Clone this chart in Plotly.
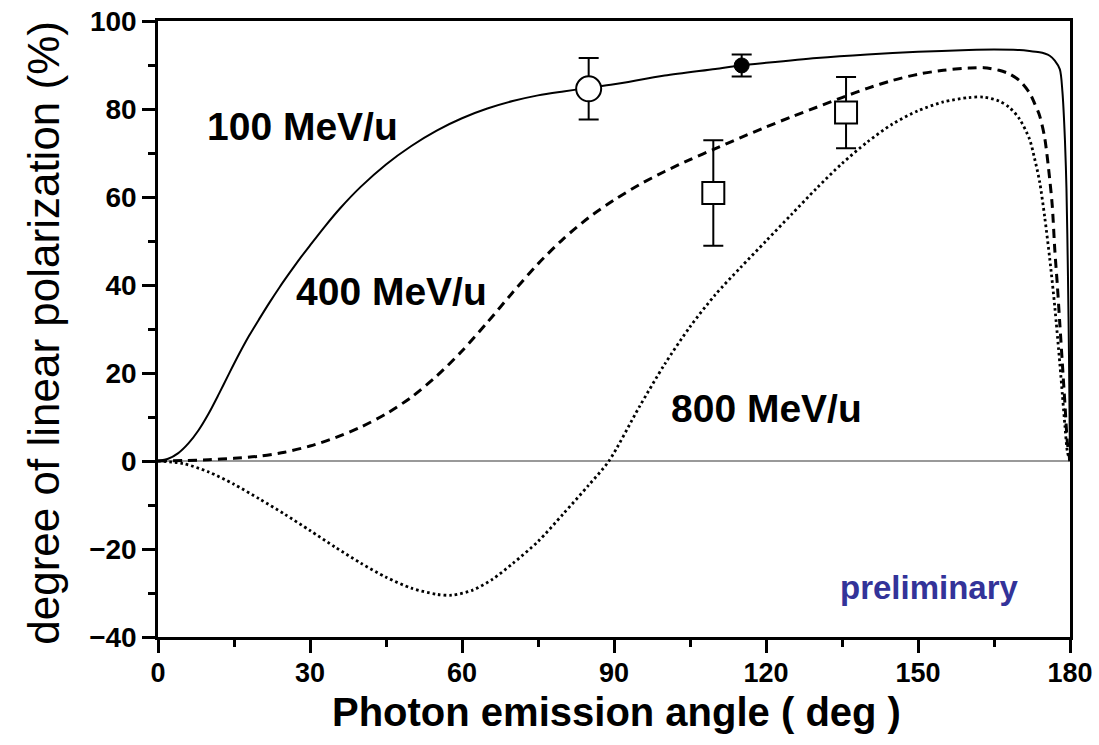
import plotly.graph_objects as go

# ---------------- data ----------------
angle_100 = [0, 2, 4, 6, 8, 10, 12, 14, 16, 18, 20, 22, 24, 26, 28, 30, 33, 36, 40, 45, 50, 55, 60,
             65, 70, 75, 80, 85, 90, 100, 110, 115, 120, 130, 140, 150, 160, 165, 170, 172, 174,
             175, 176, 177, 178, 178.5, 179, 179.3, 179.6, 179.8, 180]
pol_100 = [0, 0.5, 1.8, 4.0, 7.0, 10.8, 15.2, 19.8, 24.3, 28.5, 32.3, 36.0, 39.5, 42.8, 46.0, 49.0,
           53.4, 57.5, 62.3, 67.4, 71.6, 75.1, 77.9, 80.1, 81.8, 83.1, 84.0, 84.8, 85.6, 87.6, 89.1,
           89.9, 90.5, 91.6, 92.4, 93.0, 93.4, 93.5, 93.4, 93.2, 92.9, 92.6, 92.1, 91.0, 89.0, 84.0,
           73.0, 62.0, 42.0, 24.0, 0]

angle_400 = [0, 5, 10, 15, 20, 25, 30, 35, 40, 45, 50, 55, 60, 65, 70, 75, 80, 85, 90, 95, 100,
             105, 110, 115, 120, 125, 130, 135, 140, 145, 150, 155, 160, 163, 166, 168, 170, 172,
             173, 174, 175, 176, 176.5, 177, 177.5, 178, 178.5, 179, 179.5, 180]
pol_400 = [0, 0.1, 0.3, 0.6, 1.1, 2.0, 3.4, 5.3, 7.7, 10.7, 14.5, 19.3, 25.0, 31.5, 38.3, 44.8,
           50.5, 55.3, 59.3, 62.8, 65.8, 68.5, 71.0, 73.5, 75.9, 78.2, 80.4, 82.6, 84.7, 86.5,
           87.9, 88.8, 89.3, 89.4, 88.8, 88.0, 86.5, 83.7, 81.3, 78.5, 73.5, 64.0, 58.0, 48.0,
           40.0, 31.0, 22.0, 13.0, 4.0, 0]

angle_800 = [0, 5, 10, 15, 20, 25, 30, 35, 40, 45, 50, 55, 58, 62, 66, 70, 75, 80, 85, 89, 95,
             100, 105, 110, 115, 120, 125, 130, 135, 140, 145, 150, 155, 160, 163, 166, 168, 170,
             172, 173, 174, 175, 176, 177, 178, 178.5, 179, 179.5, 180]
pol_800 = [0, -0.6, -2.5, -5.3, -8.6, -12.1, -15.8, -19.6, -23.2, -26.4, -28.9, -30.3, -30.5,
           -29.4, -26.9, -23.3, -18.3, -12.0, -5.5, 0, 12.3, 22.0, 30.5, 37.8, 44.0, 50.0, 56.0,
           62.0, 67.6, 72.5, 76.6, 79.6, 81.6, 82.6, 82.7, 81.8, 80.4, 77.8, 73.2, 68.8, 63.5,
           55.5, 46.0, 35.0, 22.0, 15.0, 8.0, 2.0, 0]

open_circle_x = [85.0]
open_circle_y = [84.6]
open_circle_err = [7.0]

filled_circle_x = [115.2]
filled_circle_y = [89.9]
filled_circle_err = [2.5]

square_x = [109.6, 135.8]
square_y = [60.9, 79.2]
square_err = [12.0, 8.1]

curve_labels = ["100 MeV/u", "400 MeV/u", "800 MeV/u"]
label_x = [28.5, 46.1, 120.1]
label_y = [76.1, 38.6, 12.0]

x_ticks = [0, 30, 60, 90, 120, 150, 180]
y_ticks = [-40, -20, 0, 20, 40, 60, 80, 100]

FONT = "Liberation Sans, Arial, sans-serif"

fig = go.Figure()

fig.add_trace(go.Scatter(x=angle_100, y=pol_100, mode="lines", name=curve_labels[0],
                         line=dict(color="black", width=2, shape="spline", smoothing=0.8)))
fig.add_trace(go.Scatter(x=angle_400, y=pol_400, mode="lines", name=curve_labels[1],
                         line=dict(color="black", width=3, dash="9px,6px", shape="spline",
                                   smoothing=0.8)))
fig.add_trace(go.Scatter(x=angle_800, y=pol_800, mode="lines", name=curve_labels[2],
                         line=dict(color="black", width=2.8, dash="2.6px,3px", shape="spline",
                                   smoothing=0.8)))

err_style = dict(type="data", color="black", thickness=2, width=10)

fig.add_trace(go.Scatter(x=open_circle_x, y=open_circle_y, mode="markers",
                         error_y=dict(array=open_circle_err, **err_style),
                         marker=dict(symbol="circle", size=25, color="white",
                                     line=dict(color="black", width=2))))
fig.add_trace(go.Scatter(x=filled_circle_x, y=filled_circle_y, mode="markers",
                         error_y=dict(array=filled_circle_err, **err_style),
                         marker=dict(symbol="circle", size=15, color="black",
                                     line=dict(color="black", width=1))))
fig.add_trace(go.Scatter(x=square_x, y=square_y, mode="markers",
                         error_y=dict(array=square_err, **err_style),
                         marker=dict(symbol="square", size=22, color="white",
                                     line=dict(color="black", width=2))))

annotations = []
for t, xx, yy in zip(curve_labels, label_x, label_y):
    annotations.append(dict(x=xx, y=yy, xref="x", yref="y", text=t, showarrow=False,
                            xanchor="center", yanchor="middle",
                            font=dict(family=FONT, size=39, color="black", weight="bold")))
annotations.append(dict(x=152.3, y=-28.7, xref="x", yref="y", text="preliminary", showarrow=False,
                        xanchor="center", yanchor="middle",
                        font=dict(family=FONT, size=33, color="#333399", weight="bold")))
annotations.append(dict(x=-0.125, y=0.494, xref="paper", yref="paper",
                        text="degree of linear polarization (%)", showarrow=False,
                        textangle=-90, xanchor="center", yanchor="middle",
                        font=dict(family=FONT, size=44, color="black")))
annotations.append(dict(x=0.503, y=-0.083, xref="paper", yref="paper",
                        text="Photon emission angle ( deg )", showarrow=False,
                        xanchor="center", yanchor="top",
                        font=dict(family=FONT, size=40, color="black", weight="bold")))

fig.update_layout(
    width=1099, height=745,
    margin=dict(l=158, r=29, t=21, b=108, autoexpand=False),
    paper_bgcolor="white", plot_bgcolor="white",
    showlegend=False,
    annotations=annotations,
    xaxis=dict(range=[0, 180], tickvals=x_ticks, ticks="outside", ticklen=13, tickwidth=2.5,
               tickcolor="black", showline=True, linecolor="black", linewidth=2.5, mirror=True,
               showgrid=False, zeroline=False, automargin=False, ticklabelstandoff=-3,
               minor=dict(ticks="outside", ticklen=7, tickwidth=2.5, dtick=15, tick0=0,
                          tickcolor="black", showgrid=False),
               tickfont=dict(family=FONT, size=27, color="black", weight="bold")),
    yaxis=dict(range=[-40, 100], tickvals=y_ticks, ticks="outside", ticklen=13, tickwidth=2.5,
               tickcolor="black", showline=True, linecolor="black", linewidth=2.5, mirror=True,
               showgrid=False, zeroline=True, zerolinecolor="#999999", zerolinewidth=1.5,
               automargin=False,
               minor=dict(ticks="outside", ticklen=7, tickwidth=2.5, dtick=10, tick0=0,
                          tickcolor="black", showgrid=False),
               tickfont=dict(family=FONT, size=28, color="black", weight="bold")),
)

fig.write_html("out.html")
